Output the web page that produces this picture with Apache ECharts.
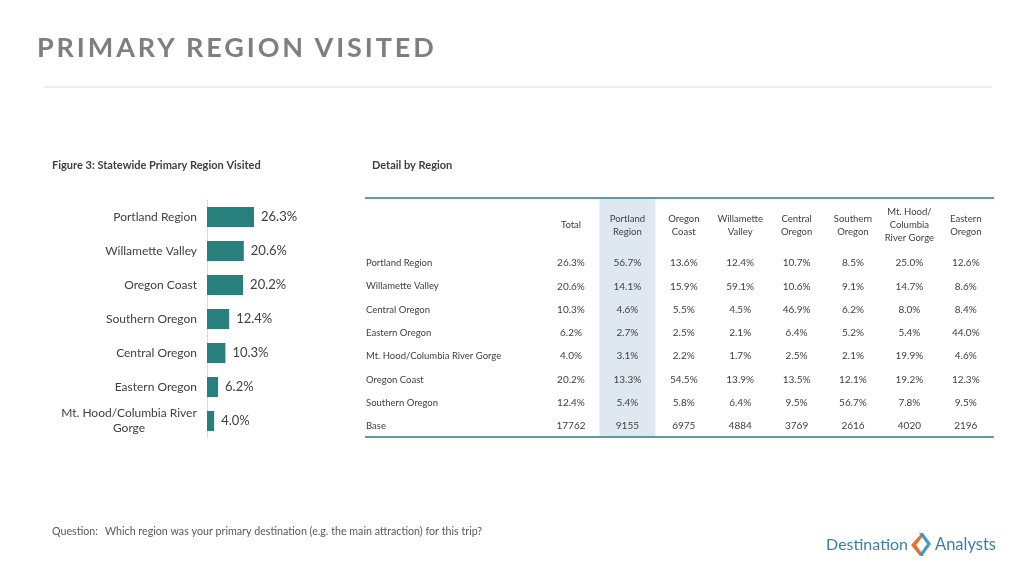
<!DOCTYPE html>
<html>
<head>
<meta charset="utf-8">
<script src="https://cdn.jsdelivr.net/npm/echarts@6/dist/echarts.min.js"></script>
<style>
html,body{margin:0;padding:0;background:#fff;}
#wrap{position:relative;width:1024px;height:576px;overflow:hidden;}
#chart{position:absolute;left:0;top:0;width:1024px;height:576px;}
#title{position:absolute;left:37px;top:30px;font:bold 27px 'Lato',sans-serif;letter-spacing:2.9px;color:#7f7f7f;white-space:nowrap;}
</style>
</head>
<body>
<div id="wrap">
<div id="chart"></div>
<div id="title">PRIMARY REGION VISITED</div>
</div>
<script>
// ---- Data ----
const categories = ['Portland Region','Willamette Valley','Oregon Coast','Southern Oregon','Central Oregon','Eastern Oregon','Mt. Hood/Columbia River Gorge'];
const values = [26.3, 20.6, 20.2, 12.4, 10.3, 6.2, 4.0];

const tableColumns = ['Total','Portland\nRegion','Oregon\nCoast','Willamette\nValley','Central\nOregon','Southern\nOregon','Mt. Hood/\nColumbia\nRiver Gorge','Eastern\nOregon'];
const tableRows = ['Portland Region','Willamette Valley','Central Oregon','Eastern Oregon','Mt. Hood/Columbia River Gorge','Oregon Coast','Southern Oregon','Base'];
const rowPortland   = [26.3, 56.7, 13.6, 12.4, 10.7, 8.5, 25.0, 12.6];
const rowWillamette = [20.6, 14.1, 15.9, 59.1, 10.6, 9.1, 14.7, 8.6];
const rowCentral    = [10.3, 4.6, 5.5, 4.5, 46.9, 6.2, 8.0, 8.4];
const rowEastern    = [6.2, 2.7, 2.5, 2.1, 6.4, 5.2, 5.4, 44.0];
const rowMtHood     = [4.0, 3.1, 2.2, 1.7, 2.5, 2.1, 19.9, 4.6];
const rowCoast      = [20.2, 13.3, 54.5, 13.9, 13.5, 12.1, 19.2, 12.3];
const rowSouthern   = [12.4, 5.4, 5.8, 6.4, 9.5, 56.7, 7.8, 9.5];
const rowBase       = [17762, 9155, 6975, 4884, 3769, 2616, 4020, 2196];

// ---- Layout / style ----
const FONT = "'Lato', sans-serif";
const TEAL = '#27807c';
const TXT = '#404040';

const chart = echarts.init(document.getElementById('chart'), null, {renderer:'canvas'});

const tableData = [rowPortland,rowWillamette,rowCentral,rowEastern,rowMtHood,rowCoast,rowSouthern];
const tblLeft = 365, tblRight = 994, tblTop = 198, tblBottom = 437;
const colX0 = 571, colStep = 56.4;
const headerY = 225;
const rowY0 = 263, rowStep = 23.3;

const graphics = [];
// gray rule under title
graphics.push({type:'line', shape:{x1:44,y1:87,x2:992,y2:87}, style:{stroke:'#d9d9d9', lineWidth:1}});
// subtitles
graphics.push({type:'text', x:52, y:165, style:{text:'Figure 3: Statewide Primary Region Visited', font:'bold 11px '+FONT, fill:TXT, textVerticalAlign:'middle'}});
graphics.push({type:'text', x:372, y:165, style:{text:'Detail by Region', font:'bold 11px '+FONT, fill:TXT, textVerticalAlign:'middle'}});
// highlight column
graphics.push({type:'rect', shape:{x:colX0+colStep-28, y:tblTop, width:56, height:tblBottom-tblTop}, style:{fill:'#dfe7f0'}});
// table rules
graphics.push({type:'line', shape:{x1:tblLeft,y1:tblTop,x2:tblRight,y2:tblTop}, style:{stroke:TEAL, lineWidth:1.5}});
graphics.push({type:'line', shape:{x1:tblLeft,y1:tblBottom,x2:tblRight,y2:tblBottom}, style:{stroke:TEAL, lineWidth:1.5}});
// header
tableColumns.forEach((c,i)=>{
  graphics.push({type:'text', x:colX0+i*colStep, y:headerY, style:{text:c, font:'9.5px '+FONT, fill:TXT, align:'center', verticalAlign:'middle', lineHeight:13}});
});
// rows
tableRows.forEach((r,j)=>{
  const y = rowY0 + j*rowStep;
  graphics.push({type:'text', x:366, y:y, style:{text:r, font:'9.5px '+FONT, fill:TXT, verticalAlign:'middle'}});
  const vals = j < tableData.length ? tableData[j].map(v=>v.toFixed(1)+'%') : rowBase.map(v=>String(v));
  vals.forEach((v,i)=>{
    graphics.push({type:'text', x:colX0+i*colStep, y:y, style:{text:v, font:'10px '+FONT, fill:TXT, align:'center', verticalAlign:'middle'}});
  });
});
// question
graphics.push({type:'text', x:52, y:532, style:{text:'Question:', font:'10.7px '+FONT, fill:'#595959', verticalAlign:'middle'}});
graphics.push({type:'text', x:105, y:532, style:{text:'Which region was your primary destination (e.g. the main attraction) for this trip?', font:'10.7px '+FONT, fill:'#595959', verticalAlign:'middle'}});
// logo
graphics.push({type:'text', x:908, y:545, style:{text:'Destination', font:'16px '+FONT, fill:'#3b7fa8', align:'right', verticalAlign:'middle'}});
graphics.push({type:'text', x:935, y:545, style:{text:'Analysts', font:'16.5px '+FONT, fill:'#3b7fa8', align:'left', verticalAlign:'middle'}});
graphics.push({type:'polygon', shape:{points:[[920,535],[924,535],[916,545],[924,556],[920,556],[911,545]]}, style:{fill:'#e8702a'}});
graphics.push({type:'polygon', shape:{points:[[919,533],[923,533],[931,544],[923,555],[919,555],[927,544]]}, style:{fill:'#2f8fc9', opacity:0.9}});

const option = {
  animation:false,
  backgroundColor:'#ffffff',
  grid:{left:207, top:200, width:178.7, height:238, containLabel:false},
  xAxis:{type:'value', min:0, max:100, show:false},
  yAxis:{
    type:'category', data:categories, inverse:true,
    axisLine:{show:true, lineStyle:{color:'#d9d9d9', width:1}},
    axisTick:{show:false},
    axisLabel:{
      margin:10, color:TXT, fontFamily:FONT, fontSize:12, lineHeight:15, align:'right',
      rich:{c:{width:136, align:'center', color:TXT, fontFamily:FONT, fontSize:12, lineHeight:15}},
      formatter:(s)=>{ if(s.length>24){const k=s.lastIndexOf(' '); return '{c|'+s.slice(0,k)+'}\n{c|'+s.slice(k+1)+'}';} return s; }
    }
  },
  series:[{
    type:'bar', data:values, barWidth:20,
    itemStyle:{color:TEAL},
    label:{show:true, position:'right', distance:7, color:TXT, fontFamily:FONT, fontSize:13, formatter:(p)=>p.value.toFixed(1)+'%'}
  }],
  graphic:graphics
};
chart.setOption(option);
</script>
</body>
</html>
